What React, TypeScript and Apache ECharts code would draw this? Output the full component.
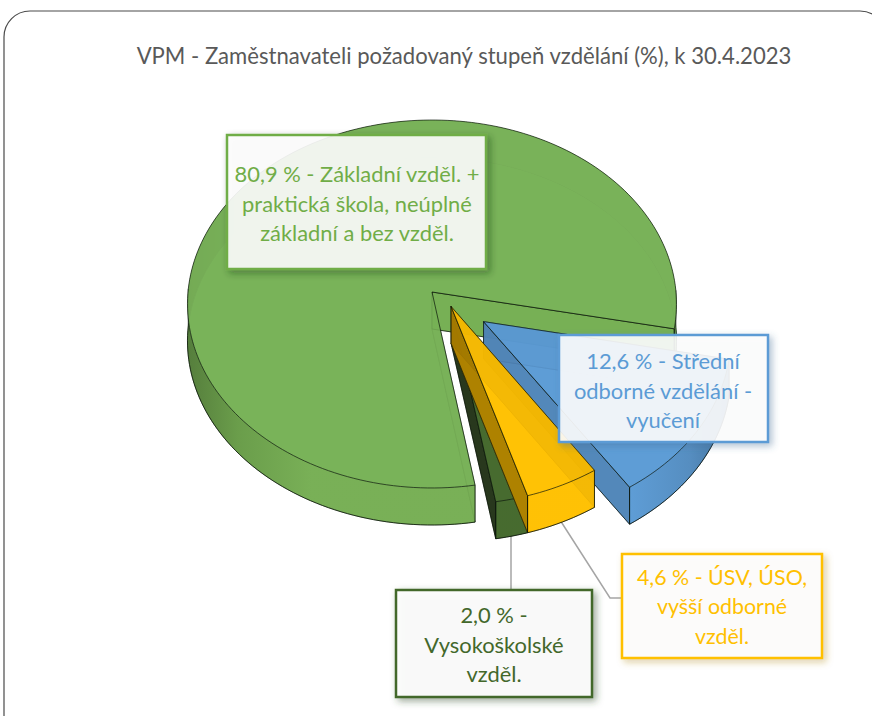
import React, { useEffect, useRef } from "react";
import * as echarts from "echarts";

const titleText = "VPM - Zaměstnavateli požadovaný stupeň vzdělání (%), k 30.4.2023";
const categories = [
  "Základní vzděl. + praktická škola, neúplné základní a bez vzděl.",
  "Střední odborné vzdělání - vyučení",
  "ÚSV, ÚSO, vyšší odborné vzděl.",
  "Vysokoškolské vzděl.",
];
const values = [80.9, 12.6, 4.6, 2.0];
const labelTexts = [
  "80,9 % - Základní vzděl. +\npraktická škola, neúplné\nzákladní a bez vzděl.",
  "12,6 % - Střední\nodborné vzdělání -\nvyučení",
  "4,6 % - ÚSV, ÚSO,\nvyšší odborné\nvzděl.",
  "2,0 % -\nVysokoškolské\nvzděl.",
];

// Projection of the tilted pie
const CX = 432, CY = 292, R = 244, RK = 183.2, P = 0.0652, H = 37;
const START_ANGLE = 80.5;
const explode: [number, number][] = [[0, 0], [0.209, 0.16], [0.078, 0.079], [0.078, 0.079]];
const drawOrder = [0, 1, 3, 2];
const EDGE = "rgba(10,20,10,0.8)";
const alpha = 0.86;

const styles = [
  { top: "#77B156", cut: "#74AE52", wall: [[0, "#4d7434"], [0.1, "#659845"], [0.25, "#76AE53"], [1, "#76AE53"]], gx: [188, 680], faint: "rgba(40,70,25,0.5)" },
  { top: "#5B9BD5", cut: "#4E82B4", wall: [[0, "#5B9BD5"], [0.6, "#5189BC"], [1, "#3d6a94"]], gx: [630, 730], faint: "rgba(30,50,80,0.6)" },
  { top: "#FFC000", cut: "#A57A00", wall: [[0, "#FFC000"], [1, "#FFC000"]], gx: [528, 594], faint: "rgba(110,80,0,0.6)" },
  { top: "#43682B", cut: "#1F2C16", wall: [[0, "#43682B"], [1, "#43682B"]], gx: [496, 528], faint: "rgba(20,30,10,0.5)" },
];

const boxes = [
  { x: 227, y: 135, w: 259, h: 134, color: "#70AD47", shadow: "rgba(30,50,20,0.45)", tx: 357, ty: 203 },
  { x: 559, y: 335, w: 209, h: 107, color: "#5B9BD5", shadow: "rgba(70,110,150,0.45)", tx: 663, ty: 390 },
  { x: 622, y: 554, w: 200, h: 104, color: "#FFC000", shadow: "rgba(170,130,20,0.4)", tx: 722, ty: 606 },
  { x: 396, y: 590, w: 196, h: 107, color: "#43682B", shadow: "rgba(50,80,40,0.5)", tx: 494, ty: 644 },
];

const FONT = "Lato, Carlito, sans-serif";

function project(u: number, v: number): [number, number] {
  const w = 1 - P * v;
  return [CX + (R * u) / w, CY + (RK * v) / w];
}

function sliceAngles(index: number): [number, number] {
  const total = values.reduce((a, b) => a + b, 0);
  let a = START_ANGLE;
  for (let i = 0; i < index; i++) a += (values[i] / total) * 360;
  return [a, a + (values[index] / total) * 360];
}

function renderSlice(params: any, api: any) {
  const i = params.dataIndex;
  const [a0, a1] = sliceAngles(i);
  const [ox, oy] = explode[i];
  const st = styles[i];
  const apex = project(ox, oy);
  const apexB: [number, number] = [apex[0], apex[1] + H];
  const rim: [number, number][] = [];
  const angles: number[] = [];
  const n = Math.max(6, Math.ceil((a1 - a0) / 1.5));
  for (let k = 0; k <= n; k++) {
    const a = a0 + ((a1 - a0) * k) / n;
    const r = (a * Math.PI) / 180;
    rim.push(project(ox + Math.cos(r), oy + Math.sin(r)));
    angles.push(a);
  }
  const down = (p: [number, number]): [number, number] => [p[0], p[1] + H];
  const rimB = rim.map(down);
  const first = rim[0], last = rim[rim.length - 1];
  const wallFill = new echarts.graphic.LinearGradient(st.gx[0], 0, st.gx[1], 0,
    st.wall.map((s: any) => ({ offset: s[0], color: s[1] })), true as any);
  const children: any[] = [];
  const poly = (points: any, fill: any, stroke: any, lw = 1) => children.push({
    type: "polygon", shape: { points },
    style: { fill, stroke, lineWidth: lw, opacity: alpha },
  });
  const pline = (points: any, stroke: any, lw = 1) => children.push({
    type: "polyline", shape: { points }, style: { fill: "none", stroke, lineWidth: lw },
  });
  // bottom face
  poly([apexB, ...rimB], st.top, st.faint);
  // hidden cut wall (start of the slice)
  poly([apex, first, down(first), apexB], st.cut, st.faint);
  // outer wall
  poly([...rim, ...rimB.slice().reverse()], wallFill, "none");
  // visible cut wall (end of the slice)
  poly([apex, last, down(last), apexB], st.cut, EDGE);
  // visible edge of the outer wall
  let run: [number, number][] = [];
  let startK = -1;
  const flush = (endK: number) => {
    if (run.length > 1) {
      pline([rim[startK], ...run, rim[endK]], EDGE);
    }
    run = [];
  };
  angles.forEach((a, k) => {
    const front = Math.sin((a * Math.PI) / 180) > -0.02;
    if (front) {
      if (!run.length) startK = k;
      run.push(rimB[k]);
    } else if (run.length) {
      flush(k - 1);
    }
  });
  if (run.length) flush(angles.length - 1);
  // top face
  poly([apex, ...rim], st.top, EDGE);
  return { type: "group", children };
}

export default function App() {
  const ref = useRef<HTMLDivElement>(null);
  useEffect(() => {
    const chart = echarts.init(ref.current!, undefined, { renderer: "svg" });
    const graphic: any[] = [
      { type: "rect", z: 0, shape: { x: 4, y: 11, width: 882, height: 730, r: 26 }, style: { fill: "#fff", stroke: "#4a4a4a", lineWidth: 1.2 } },
      { type: "text", z: 1, style: { text: titleText, x: 464, y: 55, textAlign: "center", textVerticalAlign: "middle", fontFamily: FONT, fontSize: 22.1, fill: "#595959" } },
      { type: "polyline", z: 1, shape: { points: [[511, 530], [511, 590]] }, style: { fill: "none", stroke: "#A5A5A5", lineWidth: 1.5 } },
      { type: "polyline", z: 1, shape: { points: [[560, 520], [610, 598], [622, 598]] }, style: { fill: "none", stroke: "#A5A5A5", lineWidth: 1.5 } },
    ];
    boxes.forEach((b, i) => {
      graphic.push({
        type: "rect", z: 10,
        shape: { x: b.x, y: b.y, width: b.w, height: b.h },
        style: { fill: "rgba(255,255,255,0.88)", stroke: b.color, lineWidth: 2.5, shadowBlur: 7, shadowOffsetX: 3, shadowOffsetY: 3, shadowColor: b.shadow },
      });
      graphic.push({
        type: "text", z: 11,
        style: { text: labelTexts[i], x: b.tx, y: b.ty, textAlign: "center", textVerticalAlign: "middle", fontFamily: FONT, fontSize: i === 2 ? 21.4 : 21.9, lineHeight: 29.5, fill: b.color },
      });
    });
    chart.setOption({
      animation: false,
      graphic,
      series: drawOrder.map((idx) => ({
        type: "custom",
        name: categories[idx],
        coordinateSystem: "none",
        z: 2 + drawOrder.indexOf(idx),
        silent: true,
        renderItem: (params: any, api: any) => renderSlice({ dataIndex: idx }, api),
        data: [values[idx]],
      })),
    });
    return () => chart.dispose();
  }, []);
  return <div ref={ref} style={{ position: "absolute", left: 0, top: 0, width: 872, height: 716 }} />;
}
